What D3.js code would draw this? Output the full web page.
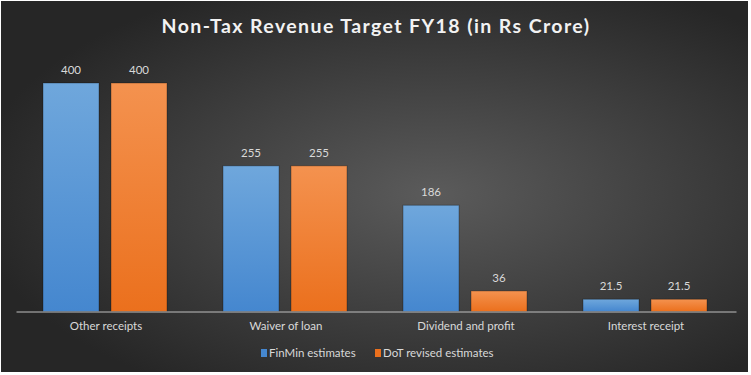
<!DOCTYPE html>
<html>
<head>
<meta charset="utf-8">
<title>Non-Tax Revenue Target FY18</title>
<style>
  html, body { margin: 0; padding: 0; background: #fff; }
  svg { display: block; }
  .lbl { font-family: Lato, "Open Sans", sans-serif; fill: #d9d9d9; }
</style>
<script src="https://d3js.org/d3.v7.min.js"></script>
</head>
<body>
<svg id="chart" width="751" height="375"></svg>
<script>
// data
var categories = ["Other receipts", "Waiver of loan", "Dividend and profit", "Interest receipt"];
var seriesNames = ["FinMin estimates", "DoT revised estimates"];
var finmin = [400, 255, 186, 21.5];
var dotRevised = [400, 255, 36, 21.5];

var W = 751, H = 375;
var svg = d3.select("#chart");
var defs = svg.append("defs");

// background gradient
var bg = defs.append("radialGradient").attr("id", "bg")
  .attr("cx", "58%").attr("cy", "52%").attr("r", "62%");
bg.append("stop").attr("offset", "0%").attr("stop-color", "#5b5b5b");
bg.append("stop").attr("offset", "100%").attr("stop-color", "#262626");

var barCols = [["#6fa7dc", "#4587cf"], ["#f4924f", "#eb701d"]];
barCols.forEach(function (c, i) {
  var g = defs.append("linearGradient").attr("id", "bar" + i)
    .attr("x1", 0).attr("y1", 0).attr("x2", 0).attr("y2", 1);
  g.append("stop").attr("offset", "0%").attr("stop-color", c[0]);
  g.append("stop").attr("offset", "100%").attr("stop-color", c[1]);
});

svg.append("rect").attr("x", 1).attr("y", 1).attr("width", W - 4).attr("height", H - 4)
  .attr("fill", "url(#bg)");

// title
svg.append("text")
  .attr("x", 376).attr("y", 33)
  .attr("text-anchor", "middle")
  .style("font-family", "Lato, 'Open Sans', sans-serif")
  .style("font-weight", "bold")
  .style("font-size", "19.5px")
  .style("letter-spacing", "1.4px")
  .attr("fill", "#f2f2f2")
  .text("Non-Tax Revenue Target FY18 (in Rs Crore)");

// scales
var x0 = d3.scaleBand().domain(categories).range([16, 736]).paddingInner(0).paddingOuter(0);
var x1 = d3.scaleBand().domain([0, 1]).range([27, 151]).paddingInner(0.1765);
var y = d3.scaleLinear().domain([0, 400]).range([311.5, 83]);

var rows = categories.map(function (c, i) {
  return { cat: c, vals: [finmin[i], dotRevised[i]] };
});

var groups = svg.selectAll(".grp").data(rows).enter().append("g")
  .attr("transform", function (d) { return "translate(" + x0(d.cat) + ",0)"; });

groups.selectAll("rect").data(function (d) { return d.vals; }).enter().append("rect")
  .attr("x", function (d, i) { return x1(i); })
  .attr("width", x1.bandwidth())
  .attr("y", function (d) { return y(d); })
  .attr("height", function (d) { return y(0) - y(d); })
  .attr("fill", function (d, i) { return "url(#bar" + i + ")"; })
  .attr("stroke", "rgba(0,0,0,0.3)")
  .attr("stroke-width", 1);

groups.selectAll(".val").data(function (d) { return d.vals; }).enter().append("text")
  .attr("class", "lbl")
  .attr("x", function (d, i) { return x1(i) + x1.bandwidth() / 2; })
  .attr("y", function (d) { return y(d) - 9; })
  .attr("text-anchor", "middle")
  .style("font-size", "11.5px")
  .text(function (d) { return d; });

// axis
var xAxis = d3.axisBottom(x0).tickSize(0).tickPadding(10);
var ax = svg.append("g").attr("transform", "translate(0," + y(0) + ")").call(xAxis);
ax.select(".domain").attr("stroke", "#bfbfbf").attr("stroke-width", 1);
ax.selectAll("text").attr("class", "lbl")
  .style("font-family", "Lato, 'Open Sans', sans-serif")
  .style("font-size", "11.5px").attr("fill", "#d9d9d9");

// legend
var legX = [261, 375];
var leg = svg.selectAll(".leg").data(seriesNames).enter().append("g")
  .attr("transform", function (d, i) { return "translate(" + legX[i] + ",349)"; });
leg.append("rect").attr("width", 6).attr("height", 8).attr("y", 0)
  .attr("fill", function (d, i) { return barCols[i][1]; });
leg.append("text").attr("class", "lbl").attr("x", 8).attr("y", 8)
  .style("font-size", "11.5px")
  .text(function (d) { return d; });
</script>
</body>
</html>
